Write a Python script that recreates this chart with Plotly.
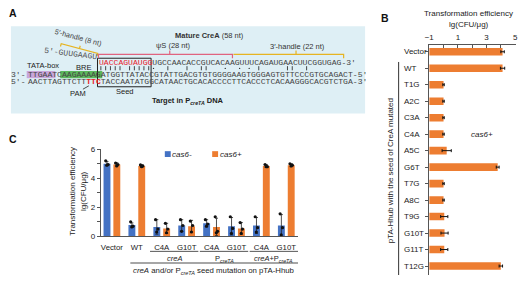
import math
import plotly.graph_objects as go

W, H = 520, 283
BLUE = "#4472C4"
ORANGE = "#ED7D31"
SANS = "Liberation Sans, Arial, sans-serif"
MONO = "Liberation Mono, Courier New, monospace"

# ---------------- data ----------------
# Panel B
b_labels = ["Vector", "WT", "T1G", "A2C", "C3A", "C4A", "A5C", "G6T",
            "T7G", "A8C", "T9G", "G10T", "G11T", "T12G"]
b_values = [4.12, 4.12, 0.0, 0.0, 0.0, 0.0, 0.22, 3.78, 0.0, 0.0, 0.05, 0.07, 0.05, 4.0]
b_errors = [0.12, 0.15, 0.05, 0.05, 0.05, 0.05, 0.32, 0.10, 0.05, 0.05, 0.25, 0.25, 0.25, 0.12]
b_axis_min = -1
b_ticks = [-1, 1, 3, 5]

# Panel C
c_ticks = ["Vector", "WT", "C4A", "G10T", "C4A", "G10T", "C4A", "G10T"]
c_groups = ["<i>creA</i>", "P<sub><i>creTA</i></sub>", "<i>creA</i>+P<sub><i>creTA</i></sub>"]
c_neg_mean = [5.0, 0.78, 0.65, 0.75, 0.9, 0.7, 0.75, 0.75]
c_neg_sd = [0.15, 0.15, 0.5, 0.4, 0.25, 0.6, 0.55, 0.75]
c_pos_mean = [4.95, 4.85, 0.55, 0.7, 0.65, 0.55, 4.85, 4.9]
c_pos_sd = [0.12, 0.08, 0.35, 0.4, 0.6, 0.4, 0.1, 0.1]
c_neg_reps = [[5.2, 4.95, 4.9], [1.0, 0.7, 0.65], [1.15, 0.5, 0.3], [1.15, 0.75, 0.35],
              [1.15, 0.85, 0.7], [1.35, 0.55, 0.2], [1.35, 0.6, 0.3], [1.55, 0.6, 0.1]]
c_pos_reps = [[5.05, 4.95, 4.85], [4.92, 4.85, 4.8], [0.9, 0.5, 0.25], [1.05, 0.75, 0.3],
              [1.35, 0.35, 0.25], [0.95, 0.5, 0.2], [4.95, 4.8, 4.8], [5.0, 4.9, 4.85]]

# Panel A sequences
seq_5handle = "5′-GUUGAAGU"
seq_rna_seed = "UACCAGUAUGG"
seq_rna_rest = "UGCCAACACCGUCACAAGUUUCAGAUGAACUUCGGUGAG"
seq_d1 = "TTGAATCAAGAAAAGATGGTTATACCGTATTGACGTGTGGGGAAGTGGGAGTGTTCCCGTGCAGACT"
seq_d2 = "AACTTAGTTCTTTTCTACCAATATGGCATAACTGCACACCCCTTCACCCTCACAAGGGCACGTCTGA"
pair_bar = [1, 2, 3, 4, 5, 7, 8, 9, 10, 11, 15, 19, 22, 23, 34, 40, 41, 44]
pair_dot = [12, 27, 30, 32]


def px(x):
    return x / W


def py(y):
    return 1 - y / H


fig = go.Figure()

# ---------------- Panel C bars ----------------
BW = 0.277
OFF = 0.1975
cats = list(range(len(c_ticks)))
fig.add_trace(go.Bar(
    x=cats, y=c_neg_mean, width=BW, offset=-OFF - BW / 2, marker_color=BLUE,
    marker_line_width=0, name="cas6-", showlegend=False, xaxis="x", yaxis="y",
    error_y=dict(type="data", array=c_neg_sd, color="#222", thickness=0.8, width=1.5)))
fig.add_trace(go.Bar(
    x=cats, y=c_pos_mean, width=BW, offset=OFF - BW / 2, marker_color=ORANGE,
    marker_line_width=0, name="cas6+", showlegend=False, xaxis="x", yaxis="y",
    error_y=dict(type="data", array=c_pos_sd, color="#222", thickness=0.8, width=1.5)))

jit = [-0.05, 0.045, -0.005]
dx, dy = [], []
for i, reps in enumerate(c_neg_reps):
    for j, v in enumerate(reps):
        dx.append(i - OFF + jit[j]); dy.append(v)
for i, reps in enumerate(c_pos_reps):
    for j, v in enumerate(reps):
        dx.append(i + OFF + jit[j]); dy.append(v)
fig.add_trace(go.Scatter(x=dx, y=dy, mode="markers", xaxis="x", yaxis="y",
                         marker=dict(size=3.2, color="#111"), showlegend=False,
                         hoverinfo="skip"))

# ---------------- Panel B bars ----------------
fig.add_trace(go.Bar(
    orientation="h", y=list(range(len(b_labels))),
    x=[v - b_axis_min for v in b_values], base=b_axis_min, width=0.46,
    marker_color=ORANGE, marker_line_width=0, showlegend=False,
    xaxis="x2", yaxis="y2",
    error_x=dict(type="data", array=b_errors, color="#111", thickness=1, width=1.5)))

axis_line = "#555"
fig.update_layout(
    width=W, height=H, autosize=False,
    margin=dict(l=0, r=0, t=0, b=0),
    paper_bgcolor="white", plot_bgcolor="rgba(0,0,0,0)",
    barmode="overlay",
    font=dict(family=SANS, size=8, color="#333"),
    xaxis=dict(domain=[px(97), px(297)], anchor="y", range=[-0.45, 7.47],
               tickvals=cats, ticktext=c_ticks, ticks="", showline=True,
               linecolor=axis_line, linewidth=1, showgrid=False, zeroline=False,
               tickfont=dict(size=7.8, color="#222"), ticklabelstandoff=3),
    yaxis=dict(domain=[py(240), py(150)], anchor="x", range=[0, 6], tick0=0, dtick=2,
               ticks="outside", ticklen=3, tickcolor=axis_line, showline=True,
               linecolor=axis_line, showgrid=False, zeroline=False,
               minor=dict(dtick=1, ticks="outside", ticklen=3, tickcolor=axis_line),
               tickfont=dict(size=8, color="#222")),
    xaxis2=dict(domain=[px(430), px(518)], anchor="y2", side="top", range=[-1, 5.06],
                tickvals=b_ticks, ticks="inside", ticklen=3, tickcolor=axis_line,
                minor=dict(dtick=1, tick0=-1, ticks="inside", ticklen=3, tickcolor=axis_line),
                showline=True, linecolor=axis_line, showgrid=False, zeroline=False,
                tickfont=dict(size=8, color="#222")),
    yaxis2=dict(domain=[py(280), py(42)], anchor="x2", range=[13.55, -0.43],
                tickvals=list(range(len(b_labels))), showticklabels=False,
                ticks="outside", ticklen=3, tickcolor=axis_line, showline=True,
                linecolor=axis_line, showgrid=False, zeroline=False),
)

anns = []
shapes = []


def ann(x, y, text, size=7.5, xanchor="center", family=SANS, color="#333",
        angle=0, xref="paper", yref="paper", yanchor="middle"):
    anns.append(dict(x=x if xref != "paper" else px(x),
                     y=y if yref != "paper" else py(y),
                     xref=xref, yref=yref, text=text, showarrow=False,
                     xanchor=xanchor, yanchor=yanchor, textangle=angle,
                     borderpad=0, font=dict(family=family, size=size, color=color)))


def line(x0, y0, x1, y1, color="#111", width=1, xref="paper", yref="paper"):
    shapes.append(dict(type="line", xref=xref, yref=yref,
                       x0=x0 if xref != "paper" else px(x0),
                       x1=x1 if xref != "paper" else px(x1),
                       y0=y0 if yref != "paper" else py(y0),
                       y1=y1 if yref != "paper" else py(y1),
                       line=dict(color=color, width=width)))


def rect(x0, y0, x1, y1, fill=None, color=None, width=0, layer="below"):
    d = dict(type="rect", xref="paper", yref="paper", x0=px(x0), x1=px(x1),
             y0=py(y1), y1=py(y0), layer=layer,
             line=dict(width=width, color=color or "rgba(0,0,0,0)"))
    if fill:
        d["fillcolor"] = fill
    shapes.append(d)


def path(points, color, width=1):
    s = ""
    for cmd, x, y in points:
        s += f"{cmd} {px(x):.5f},{py(y):.5f} "
    shapes.append(dict(type="path", xref="paper", yref="paper", path=s.strip(),
                       line=dict(color=color, width=width)))


# ---------------- Panel labels ----------------
ann(3, 9, "<b>A</b>", size=10.5, xanchor="left", color="#111")
ann(380, 14, "<b>B</b>", size=10.5, xanchor="left", color="#111")
ann(3, 139, "<b>C</b>", size=10.5, xanchor="left", color="#111")

# ---------------- Panel A ----------------
rect(6, 23, 365, 113, fill="#DEEFF5")
CW = 4.85
MS = CW / 0.6
S0 = 22
RNA_X = S0 + 15 * CW
Y_RNA, Y_PAIR, Y_D1, Y_D2 = 60, 66.5, 73, 80.5

rect(S0, Y_D1 - 3.8, S0 + 6 * CW, Y_D1 + 3.6, fill="#C9A6DA")
rect(S0 + 7 * CW, Y_D1 - 3.8, S0 + 16 * CW - 1, Y_D1 + 3.6, fill="#5CB85C")
rect(RNA_X - 1, 56, RNA_X + 11 * CW, 85.5, color="#222", width=1, layer="above")

ann(RNA_X, Y_RNA, f'<span style="color:#E8202A">{seq_rna_seed}</span>{seq_rna_rest}-3′',
    size=MS, xanchor="left", family=MONO, color="#444")
# base-pairing marks
for p in pair_bar:
    xc = RNA_X + (p - 0.5) * CW
    line(xc, Y_PAIR - 2.3, xc, Y_PAIR + 2.0, color="#333", width=0.9)
for p in pair_dot:
    xc = RNA_X + (p - 0.5) * CW
    shapes.append(dict(type="circle", xref="paper", yref="paper",
                       x0=px(xc - 0.7), x1=px(xc + 0.7), y0=py(Y_PAIR + 0.7),
                       y1=py(Y_PAIR - 0.7), fillcolor="#333", line=dict(width=0)))
ann(S0, Y_D1, "3′-", size=MS, xanchor="right", family=MONO, color="#444")
ann(S0, Y_D1, seq_d1 + "-5′", size=MS, xanchor="left", family=MONO, color="#444")
ann(S0, Y_D2, "5′-", size=MS, xanchor="right", family=MONO, color="#444")
ann(S0, Y_D2, seq_d2[:12] + '<span style="color:#E8202A"><b>' + seq_d2[12:15] +
    "</b></span>" + seq_d2[15:] + "-3′", size=MS, xanchor="left", family=MONO, color="#444")

ann(66, 51, seq_5handle, size=MS, family=MONO, color="#555", angle=7)
ann(74, 35, "5′-handle (8 nt)", size=7.2, color="#444", angle=15)
th = math.atan2(10, 37)
nx, ny = -math.sin(th), math.cos(th)
P0 = (57, 41); P1 = (94, 51)
M = ((P0[0] + P1[0]) / 2, (P0[1] + P1[1]) / 2)
path([("M", P0[0] + 3 * nx, P0[1] + 3 * ny), ("L", *P0), ("L", *P1),
      ("L", P1[0] + 3 * nx, P1[1] + 3 * ny),
      ("M", *M), ("L", M[0] - 3 * nx, M[1] - 3 * ny)], "#E6B422", 1.2)

PS_END = RNA_X + 28 * CW
H3_END = PS_END + 22 * CW + 6
path([("M", RNA_X, 56), ("L", RNA_X, 52), ("L", PS_END, 52), ("L", PS_END, 56),
      ("M", 167, 52), ("L", 167, 48)], "#E0637F", 1.2)
path([("M", PS_END + 1, 52), ("L", H3_END, 52), ("L", H3_END, 56),
      ("M", 295, 52), ("L", 295, 48)], "#E6B422", 1.2)

ann(207, 33, "<b>Mature CreA</b> (58 nt)", size=7.5, color="#333")
ann(171, 43, "ψS (28 nt)", size=7.5, color="#333")
ann(296, 44, "3′-handle (22 nt)", size=7.5, color="#333")
ann(39, 63.5, "TATA-box", size=7.5, color="#222")
ann(80, 66, "BRE", size=7.5, color="#222")
ann(74, 92.5, "PAM", size=7.5, color="#222")
line(79, 88, 85, 84.5, color="#222", width=0.8)
ann(122, 90.5, "Seed", size=7.5, color="#222")
ann(185, 100.5, "<b>Target in P<sub><i>creTA</i></sub> DNA</b>", size=7.5, color="#222")

# ---------------- Panel B extras ----------------
ann(470, 10, "Transformation efficiency", size=8, color="#222")
ann(470, 21, "lg(CFU/μg)", size=8, color="#222")
for i, lab in enumerate(b_labels):
    ann(403, i, lab, size=8, xanchor="left", color="#222", yref="y2")
line(399, 0.62, 399, 13.55, color="#333", width=1, yref="y2")
ann(391, 172, "pTA-Hhub with the seed of CreA mutated", size=8, color="#222", angle=-90)
ann(484, 135, "<i>cas6+</i>", size=8, color="#222")

# ---------------- Panel C extras ----------------
ann(74, 194, "Transformation efficiency<br>lg(CFU/μg)", size=8, color="#222", angle=-90)
rect(162, 152, 168, 158, fill=BLUE, layer="above")
ann(168.5, 155, "<i>cas6-</i>", size=8, xanchor="left", color="#222")
rect(210, 152, 216, 158, fill=ORANGE, layer="above")
ann(216.5, 155, "<i>cas6+</i>", size=8, xanchor="left", color="#222")

for g, lab in enumerate(c_groups):
    a, b = 2 + 2 * g, 3 + 2 * g
    shapes.append(dict(type="line", xref="x", yref="paper", x0=a - 0.47, x1=b + 0.47,
                       y0=py(255.5), y1=py(255.5), line=dict(color="#555", width=1)))
    anns.append(dict(x=(a + b) / 2, y=py(257), xref="x", yref="paper", text=lab,
                     showarrow=False, borderpad=0, yanchor="top",
                     font=dict(family=SANS, size=7.5, color="#222")))
shapes.append(dict(type="line", xref="x", yref="paper", x0=0.74, x1=7.47,
                   y0=py(267.5), y1=py(267.5), line=dict(color="#888", width=1.6)))
anns.append(dict(x=(0.74 + 7.47) / 2, y=py(270), xref="x", yref="paper",
                 text="<i>creA</i> and/or P<sub><i>creTA</i></sub> seed mutation on pTA-Hhub",
                 showarrow=False, borderpad=0, yanchor="top",
                 font=dict(family=SANS, size=7.8, color="#222")))

fig.update_layout(annotations=anns, shapes=shapes)
fig.write_html("out.html", post_script="document.body.style.margin='0';",
               config={"displayModeBar": False})
